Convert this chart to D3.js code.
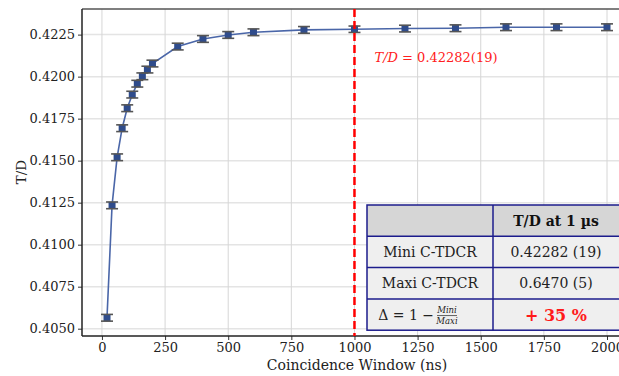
<meta charset="utf-8">
<head>
<script src="https://d3js.org/d3.v7.min.js"></script>
<style>
  body { margin: 0; background: #fff; }
  text { font-family: "DejaVu Serif", serif; }
</style>
</head>
<body>
<svg id="svg" width="619" height="376"></svg>
<script>
// coincidence window (ns) and T/D ratio with its uncertainty
const windowNs = [20, 40, 60, 80, 100, 120, 140, 160, 180, 200, 300, 400, 500, 600, 800, 1000, 1200, 1400, 1600, 1800, 2000];
const ratio = [0.40565, 0.41234, 0.41520, 0.41693, 0.41812, 0.41893, 0.41958, 0.42002, 0.42042, 0.42078,
               0.42179, 0.42224, 0.42248, 0.42264, 0.42278, 0.42282, 0.42286, 0.42288, 0.42294, 0.42294, 0.42294];
const ratioErr = [0.0002, 0.0002, 0.0002, 0.0002, 0.0002, 0.0002, 0.0002, 0.0002, 0.0002, 0.0002,
                  0.0002, 0.0002, 0.0002, 0.0002, 0.0002, 0.00019, 0.0002, 0.0002, 0.0002, 0.0002, 0.0002];
const xTicks = [0, 250, 500, 750, 1000, 1250, 1500, 1750, 2000];
const yTicks = [0.4050, 0.4075, 0.4100, 0.4125, 0.4150, 0.4175, 0.4200, 0.4225];
const refWindow = 1000;
const refLabel = "0.42282(19)";
const tableHead = ["", "T/D at 1 µs"];
const tableRows = [["Mini C-TDCR", "0.42282 (19)"], ["Maxi C-TDCR", "0.6470 (5)"]];
const deltaText = "+ 35 %";

const svg = d3.select("#svg");
const L = 82, T = 9, R = 632, B = 336;

const pad = (lo, hi) => { const m = (hi - lo) * 0.05; return [lo - m, hi + m]; };
const x = d3.scaleLinear().domain(pad(d3.min(windowNs), d3.max(windowNs))).range([L, R]);
const yLo = d3.min(ratio.map((v, i) => v - ratioErr[i]));
const yHi = d3.max(ratio.map((v, i) => v + ratioErr[i]));
const y = d3.scaleLinear().domain(pad(yLo, yHi)).range([B, T]);

// grid
svg.append("g").selectAll("line").data(yTicks).join("line")
  .attr("x1", L).attr("x2", R).attr("y1", d => y(d)).attr("y2", d => y(d))
  .attr("stroke", "#e4e4e4").attr("stroke-width", 1.5);
svg.append("g").selectAll("line").data(xTicks).join("line")
  .attr("x1", d => x(d)).attr("x2", d => x(d)).attr("y1", T).attr("y2", B)
  .attr("stroke", "#d6d6d6").attr("stroke-width", 1);

// axes
const xa = svg.append("g").attr("transform", `translate(0,${B})`)
  .call(d3.axisBottom(x).tickValues(xTicks).tickFormat(d3.format("d")).tickSize(4).tickPadding(3));
const ya = svg.append("g").attr("transform", `translate(${L},0)`)
  .call(d3.axisLeft(y).tickValues(yTicks).tickFormat(d3.format(".4f")).tickSize(4).tickPadding(3));
[xa, ya].forEach(a => {
  a.select(".domain").remove();
  a.selectAll(".tick line").attr("stroke", "#333");
  a.selectAll("text").attr("font-size", 13).attr("fill", "#222").attr("font-family", "DejaVu Serif");
});

// frame
svg.append("line").attr("x1", L).attr("x2", R).attr("y1", T).attr("y2", T).attr("stroke", "#555").attr("stroke-width", 1.5);
svg.append("line").attr("x1", L).attr("x2", L).attr("y1", T).attr("y2", B).attr("stroke", "#222").attr("stroke-width", 1.5);
svg.append("line").attr("x1", L).attr("x2", R).attr("y1", B).attr("y2", B).attr("stroke", "#222").attr("stroke-width", 1.5);

// data line
const pts = windowNs.map((w, i) => ({ w, v: ratio[i], e: ratioErr[i] }));
svg.append("path").datum(pts)
  .attr("d", d3.line().x(d => x(d.w)).y(d => y(d.v)))
  .attr("fill", "none").attr("stroke", "#4a66a8").attr("stroke-width", 1.6);

// error bars + markers
const eb = svg.append("g").selectAll("g").data(pts).join("g");
eb.append("line").attr("x1", d => x(d.w)).attr("x2", d => x(d.w))
  .attr("y1", d => y(d.v - d.e)).attr("y2", d => y(d.v + d.e)).attr("stroke", "#555").attr("stroke-width", 1.5);
eb.append("rect").attr("x", d => x(d.w) - 3.5).attr("y", d => y(d.v) - 3.5)
  .attr("width", 7).attr("height", 7).attr("fill", "#2f4c8c");
["-", "+"].forEach(s => {
  eb.append("line").attr("x1", d => x(d.w) - 6).attr("x2", d => x(d.w) + 6)
    .attr("y1", d => y(s === "-" ? d.v - d.e : d.v + d.e)).attr("y2", d => y(s === "-" ? d.v - d.e : d.v + d.e))
    .attr("stroke", "#555").attr("stroke-width", 1.6);
});

// reference line
svg.append("line").attr("x1", x(refWindow)).attr("x2", x(refWindow)).attr("y1", T).attr("y2", B)
  .attr("stroke", "#ff0000").attr("stroke-width", 2.5).attr("stroke-dasharray", "8,4");
const lab = svg.append("text").attr("x", x(refWindow) + 20).attr("y", 62).attr("font-size", 13).attr("fill", "#ff2020");
lab.append("tspan").attr("font-style", "italic").text("T/D");
lab.append("tspan").text(" = " + refLabel);

// labels
svg.append("text").attr("x", (L + R) / 2).attr("y", 370).attr("text-anchor", "middle")
  .attr("font-size", 14).attr("fill", "#222").text("Coincidence Window (ns)");
svg.append("text").attr("transform", "translate(26,172) rotate(-90)").attr("text-anchor", "middle")
  .attr("font-size", 13.5).attr("fill", "#222").text("T/D");

// table
const tx = 367, tc = 493, tr = 619, ty = 205, rh = 31.3;
const tb = svg.append("g");
const rowFill = ["#d6d6d6", "#efefef", "#efefef", "#efefef"];
rowFill.forEach((f, i) => tb.append("rect").attr("x", tx).attr("y", ty + i * rh).attr("width", tr - tx).attr("height", rh).attr("fill", f));
const navy = "#1c1c8c";
tb.append("rect").attr("x", tx).attr("y", ty).attr("width", tr - tx + 4).attr("height", rh * 4)
  .attr("fill", "none").attr("stroke", navy).attr("stroke-width", 1.5);
[1, 2, 3].forEach(i => tb.append("line").attr("x1", tx).attr("x2", tr).attr("y1", ty + i * rh).attr("y2", ty + i * rh).attr("stroke", navy).attr("stroke-width", 1.5));
tb.append("line").attr("x1", tc).attr("x2", tc).attr("y1", ty).attr("y2", ty + 4 * rh).attr("stroke", navy).attr("stroke-width", 1.5);
const c1 = (tx + tc) / 2, c2 = (tc + tr) / 2;
tb.append("text").attr("x", c2).attr("y", ty + rh / 2 + 5).attr("text-anchor", "middle").attr("font-size", 14)
  .attr("font-weight", "bold").attr("fill", "#111").text(tableHead[1]);
tableRows.forEach((r, i) => {
  const yy = ty + (i + 1) * rh + rh / 2 + 5;
  tb.append("text").attr("x", c1).attr("y", yy).attr("text-anchor", "middle").attr("font-size", 14).attr("fill", "#222").text(r[0]);
  tb.append("text").attr("x", c2).attr("y", yy).attr("text-anchor", "middle").attr("font-size", 14).attr("fill", "#222").text(r[1]);
});
const dy = ty + 3 * rh + rh / 2;
tb.append("text").attr("x", c1 + 4).attr("y", dy + 5).attr("text-anchor", "end").attr("font-size", 14).attr("fill", "#222").text("Δ = 1 −");
tb.append("text").attr("x", c1 + 17).attr("y", dy - 2).attr("text-anchor", "middle").attr("font-size", 8.5)
  .attr("font-style", "italic").attr("fill", "#222").text("Mini");
tb.append("text").attr("x", c1 + 17).attr("y", dy + 9).attr("text-anchor", "middle").attr("font-size", 8.5)
  .attr("font-style", "italic").attr("fill", "#222").text("Maxi");
tb.append("line").attr("x1", c1 + 7).attr("x2", c1 + 27).attr("y1", dy + 1).attr("y2", dy + 1).attr("stroke", "#222").attr("stroke-width", 0.7);
tb.append("text").attr("x", c2).attr("y", dy + 6).attr("text-anchor", "middle").attr("font-size", 16)
  .attr("font-weight", "bold").attr("fill", "#ff1a1a").text(deltaText);
</script>
</body>
